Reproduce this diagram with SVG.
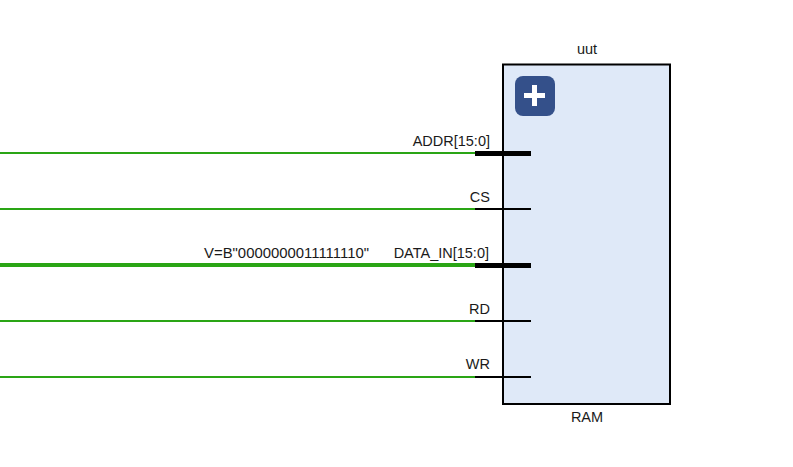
<svg xmlns="http://www.w3.org/2000/svg" width="793" height="467" viewBox="0 0 793 467">
<style>
text{font-family:"Liberation Sans",Arial,sans-serif;font-size:14.500px;fill:#1a1a1a}
.e{text-anchor:end}.m{text-anchor:middle}
.v{font-size:14.900px}
.w{stroke:#2aa515;stroke-width:2;fill:none}
.wb{stroke:#2aa515;stroke-width:4;fill:none}
.p{stroke:#000;stroke-width:2;fill:none}
.pb{stroke:#000;stroke-width:5;fill:none}
</style>
<rect width="793" height="467" fill="#fff"/>
<g id="uut">
<rect x="503" y="64.500" width="167" height="339.500" fill="#dfe9f8" stroke="#000" stroke-width="2"/>
<rect x="515" y="76" width="40" height="40" rx="8" fill="#34508a"/>
<path d="M532 85h5v8h8v5h-8v8h-5v-8h-8v-5h8z" fill="#fff"/>
<text class="m" x="587" y="54">uut</text>
<text class="m" x="587" y="422">RAM</text>
</g>
<g id="connectors">
<line class="w" x1="0" y1="153" x2="475" y2="153"/>
<line class="w" x1="0" y1="209" x2="475" y2="209"/>
<line class="wb" x1="0" y1="265" x2="475" y2="265"/>
<line class="w" x1="0" y1="321" x2="475" y2="321"/>
<line class="w" x1="0" y1="377" x2="475" y2="377"/>
</g>
<g id="port-addr"><line class="pb" x1="475" y1="153.500" x2="531" y2="153.500"/><text class="e" x="490" y="146">ADDR[15:0]</text></g>
<g id="port-cs"><line class="p" x1="475" y1="209" x2="531" y2="209"/><text class="e" x="490" y="202">CS</text></g>
<g id="port-data"><line class="pb" x1="475" y1="265.500" x2="531" y2="265.500"/><text class="e" x="489" y="258">DATA_IN[15:0]</text><text class="v" x="204" y="258">V=B"0000000011111110"</text></g>
<g id="port-rd"><line class="p" x1="475" y1="321" x2="531" y2="321"/><text class="e" x="490" y="314">RD</text></g>
<g id="port-wr"><line class="p" x1="475" y1="377" x2="531" y2="377"/><text class="e" x="490" y="369">WR</text></g>
</svg>
